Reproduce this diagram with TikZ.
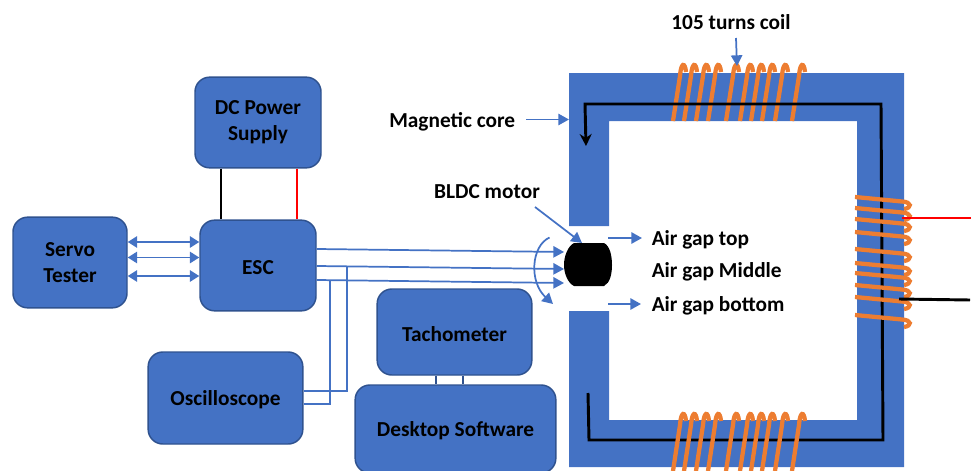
\documentclass[tikz,border=0pt]{standalone}
\usepackage{fontspec}
\setmainfont{Carlito}
\usetikzlibrary{arrows.meta}

\definecolor{coreblue}{HTML}{4472C4}
\definecolor{edgeblue}{HTML}{2F528F}
\definecolor{coilorange}{HTML}{ED7D31}

\tikzset{
    unit/.style={draw=edgeblue, line width=1.1pt, fill=coreblue, rounded corners=11pt,
        align=center, inner sep=0pt, font=\fontsize{16}{19.5}\selectfont\bfseries,
        execute at begin node={\rule{0pt}{14pt}}},
    label/.style={inner sep=0pt, font=\fontsize{16}{19.5}\selectfont\bfseries},
    link/.style={coreblue, line width=1.3pt},
    tip/.style={link, -{Triangle[length=8pt,width=8.5pt]}},
    both/.style={link, {Triangle[length=7pt,width=8.5pt]}-{Triangle[length=7pt,width=8.5pt]}},
    coil/.style={coilorange, line width=3.2pt},
    wire/.style={line width=2.2pt}
}

\begin{document}
\begin{tikzpicture}[x=0.75pt,y=-0.75pt]
    \useasboundingbox (0,0) rectangle (971,471);

    % Blocks
    \node[unit, minimum width=94.5pt, minimum height=68pt] (supply) at (258,122.5) {DC Power\\Supply};
    \node[unit, minimum width=87pt, minimum height=68pt] (esc) at (258,265.5) {ESC};
    \node[unit, minimum width=85.5pt, minimum height=68pt] (servo) at (70,262.5) {Servo\\Tester};
    \node[unit, minimum width=116pt, minimum height=69pt] (scope) at (225.5,398) {Oscilloscope};
    \node[unit, minimum width=116pt, minimum height=64.5pt] (tacho) at (454.5,332) {Tachometer};
    \node[unit, minimum width=150.5pt, minimum height=66pt] (desktop) at (455.5,429) {Desktop Software};

    % Magnetic core
    \fill[coreblue] (569,226) -- (569,73) -- (904,73) -- (904,467) -- (569,467) -- (569,311)
        -- (609,311) -- (609,420) -- (857,420) -- (857,121) -- (609,121) -- (609,226) -- cycle;

    % Top coil
    \foreach \x in {673,684,696,708,726,740,751,762,775,792}
        \draw[coil] (\x,121) -- ({\x+7},76) .. controls ({\x+8},62) and ({\x+12},62) .. ({\x+13},72);

    % Flux path
    \coordinate (fluxend) at (588,393);
    \coordinate (fluxtip) at (586,146);
    \draw[wire, -{Stealth[length=9pt,width=9pt]}] (fluxend) -- (589,440) -- (883,440) -- (881,104) -- (585,104) -- (fluxtip);

    % Bottom coil
    \foreach \x in {673,684,696,708,726,740,751,762,775,792}
        \draw[coil] (\x,471) -- ({\x+7},425) .. controls ({\x+8},411) and ({\x+12},411) .. ({\x+13},421);

    % Side coil
    \foreach \y in {197,208,219,232,249,263,273,285,297,315}
        \draw[coil] (855,\y) -- (902,{\y+4.5}) .. controls (912,{\y+5}) and (912,{\y+11}) .. (904,{\y+12});

    % Coil leads
    \coordinate (redstart) at (902,218);
    \coordinate (redend) at (971,218);
    \coordinate (blackstart) at (899,299);
    \coordinate (blackend) at (970,300);
    \draw[red, wire] (redstart) -- (redend);
    \draw[black, wire] (blackstart) -- (blackend);

    % Motor
    \fill[black] (574,243) -- (604,243) .. controls (610,246) and (612,256) .. (612,265)
        .. controls (612,274) and (610,283) .. (604,286) -- (574,286)
        .. controls (568,283) and (564,274) .. (564,265) .. controls (564,256) and (568,246) .. (574,243) -- cycle;
    \coordinate (motora) at (564,252);
    \coordinate (motorb) at (564,269);
    \coordinate (motorc) at (564,283);
    \coordinate (motortop) at (582,243);

    % Labels
    \node[label, anchor=west] (corelabel) at (389,122) {Magnetic core};
    \node[label] (coillabel) at (731,22) {105 turns coil};
    \node[label] (motorlabel) at (487,192) {BLDC motor};
    \node[label, anchor=west] (gaptop) at (651.5,240) {Air gap top};
    \node[label, anchor=west] (gapmid) at (651.5,272) {Air gap Middle};
    \node[label, anchor=west] (gapbot) at (651.5,306) {Air gap bottom};

    % Connections
    \draw[black, wire] (supply.south -| 221,0) -- (esc.north -| 221,0);
    \draw[red, wire] (supply.south -| 297,0) -- (esc.north -| 297,0);
    \foreach \y in {242,257.5,276}
        \draw[both] (servo.east |- 0,\y) -- (esc.west |- 0,\y);
    \draw[tip] (esc.east |- 0,249) -- (motora);
    \draw[tip] (esc.east |- 0,266) -- (motorb);
    \draw[tip] (esc.east |- 0,280) -- (motorc);
    \draw[link] (scope.east |- 0,391) -- (347,391) -- (347,267);
    \draw[link] (scope.east |- 0,404) -- (330,404) -- (330,280);
    \draw[edgeblue, line width=1.1pt] (tacho.south -| 436,0) -- (desktop.north -| 436,0);
    \draw[edgeblue, line width=1.1pt] (tacho.south -| 463,0) -- (desktop.north -| 463,0);

    % Pointers
    \coordinate (corepoint) at (569,119.5);
    \coordinate (coilpoint) at (737,66);
    \coordinate (gaptopstart) at (608,238);
    \coordinate (gapbotstart) at (608,304);
    \coordinate (gaptopend) at (642,238);
    \coordinate (gapbotend) at (641,304);
    \draw[tip] (526,119.5) -- (corepoint);
    \draw[tip] (736,38) -- (coilpoint);
    \draw[tip] (535,207) -- (motortop);
    \draw[tip] (gaptopstart) -- (gaptopend);
    \draw[tip] (gapbotstart) -- (gapbotend);

    % Rotation
    \coordinate (turnstart) at (549.5,237.5);
    \coordinate (turnend) at (553,304);
    \draw[tip] (turnstart) .. controls (531,246) and (529,282) .. (turnend);
\end{tikzpicture}
\end{document}
